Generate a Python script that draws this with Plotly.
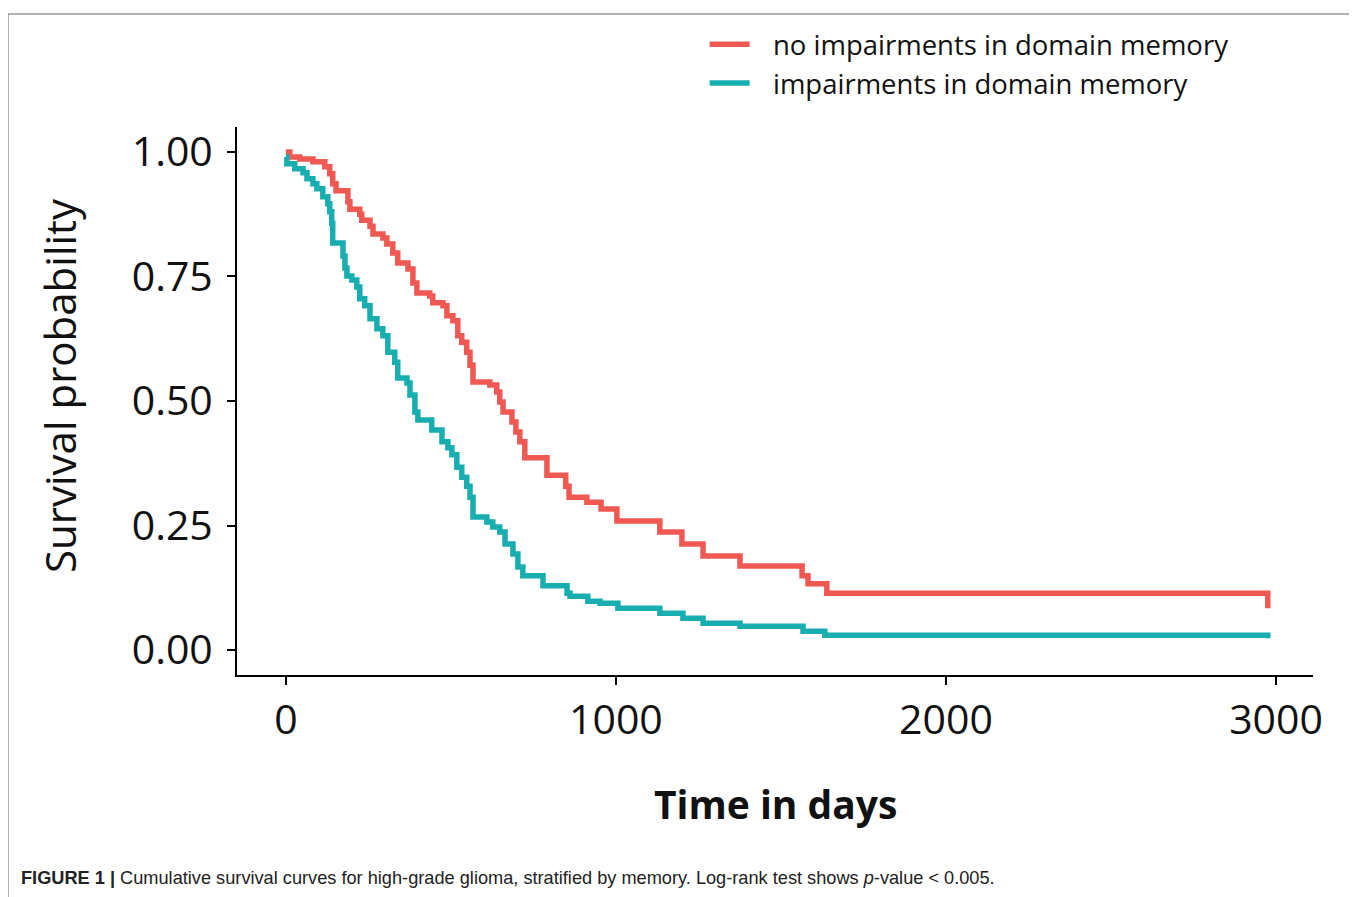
import plotly.graph_objects as go

# Kaplan-Meier step data (time in days, survival probability)
time_no_imp = [0, 12, 42, 82, 118, 133, 142, 152, 188, 194, 224, 230, 255, 264, 294, 306, 324, 339,
               370, 385, 397, 436, 445, 476, 488, 506, 521, 533, 548, 558, 567, 618, 639, 648, 658,
               685, 697, 709, 724, 791, 848, 858, 912, 955, 1003, 1133, 1200, 1264, 1376, 1564,
               1582, 1639, 2975]
surv_no_imp = [1.0, 0.990, 0.986, 0.980, 0.970, 0.956, 0.936, 0.922, 0.900, 0.885, 0.875, 0.863,
               0.851, 0.835, 0.827, 0.815, 0.797, 0.777, 0.765, 0.737, 0.717, 0.711, 0.697, 0.691,
               0.671, 0.661, 0.631, 0.618, 0.598, 0.572, 0.538, 0.532, 0.518, 0.498, 0.478, 0.458,
               0.438, 0.418, 0.386, 0.351, 0.329, 0.307, 0.297, 0.283, 0.259, 0.237, 0.213, 0.189,
               0.169, 0.149, 0.133, 0.114, 0.084]

time_imp = [0, 3, 27, 52, 64, 82, 94, 112, 127, 133, 139, 142, 173, 179, 185, 200, 215, 224, 239,
            255, 276, 294, 309, 330, 339, 367, 376, 391, 400, 442, 473, 491, 503, 518, 533, 548,
            558, 567, 609, 627, 648, 664, 688, 703, 718, 779, 852, 861, 915, 952, 1006, 1133, 1203,
            1264, 1376, 1567, 1633, 2975]
surv_imp = [0.990, 0.976, 0.966, 0.958, 0.946, 0.936, 0.926, 0.910, 0.896, 0.880, 0.857, 0.817,
            0.791, 0.767, 0.751, 0.743, 0.729, 0.705, 0.691, 0.665, 0.645, 0.631, 0.598, 0.578,
            0.546, 0.536, 0.512, 0.478, 0.462, 0.442, 0.418, 0.406, 0.392, 0.367, 0.347, 0.329,
            0.307, 0.267, 0.257, 0.247, 0.237, 0.213, 0.193, 0.167, 0.149, 0.129, 0.114, 0.108,
            0.098, 0.094, 0.084, 0.074, 0.064, 0.054, 0.048, 0.038, 0.030, 0.024]

series_names = ["no impairments in domain memory", "impairments in domain memory"]
series_colors = ["#EF5853", "#18AEB0"]

x_ticks = [0, 1000, 2000, 3000]
y_ticks = [0.0, 0.25, 0.5, 0.75, 1.0]
y_tick_labels = ["0.00", "0.25", "0.50", "0.75", "1.00"]

FONT = "Open Sans, Noto Sans, sans-serif"
GAP = "\u2002\u2009"  # visual gap between legend line and label

fig = go.Figure()
fig.add_trace(go.Scatter(x=time_no_imp, y=surv_no_imp, mode="lines", line_shape="hv",
                         name=GAP + series_names[0], line=dict(color=series_colors[0], width=5.5)))
fig.add_trace(go.Scatter(x=time_imp, y=surv_imp, mode="lines", line_shape="hv",
                         name=GAP + series_names[1], line=dict(color=series_colors[1], width=5.5)))

fig.update_layout(
    width=1349, height=889,
    margin=dict(l=229, r=44, t=114, b=222),
    paper_bgcolor="white", plot_bgcolor="white",
    font=dict(family=FONT, color="#111111"),
    showlegend=True,
    legend=dict(x=0.4346, y=1.1954, xanchor="left", yanchor="top",
                font=dict(family=FONT, size=27.5, color="#111111"),
                bgcolor="rgba(0,0,0,0)", tracegroupgap=0, itemwidth=40),
    xaxis=dict(range=[-148, 3112], tickvals=x_ticks, ticks="outside", ticklen=8, tickwidth=2,
               tickcolor="black", showline=True, linecolor="black", linewidth=2,
               showgrid=False, zeroline=False,
               tickfont=dict(family=FONT, size=41, color="#111111")),
    yaxis=dict(range=[-0.05, 1.05], tickvals=y_ticks, ticktext=y_tick_labels, ticks="outside",
               ticklen=8, tickwidth=2, tickcolor="black", showline=True, linecolor="black",
               linewidth=2, showgrid=False, zeroline=False, ticklabelstandoff=6,
               tickfont=dict(family=FONT, size=41, color="#111111")),
    shapes=[dict(type="rect", xref="paper", yref="paper", x0=-0.2128, x1=1.0344,
                 y0=-0.45, y1=1.2061, line=dict(color="#999999", width=1.5))],
    annotations=[
        dict(text="Survival probability", xref="paper", yref="paper", x=-0.1656, y=0.529,
             xanchor="center", yanchor="middle", textangle=-90, showarrow=False,
             font=dict(family=FONT, size=42, color="#111111", weight=500)),
        dict(text="<b>Time in days</b>", xref="paper", yref="paper", x=0.5, y=-0.235,
             xanchor="center", yanchor="middle", showarrow=False,
             font=dict(family=FONT, size=39, color="#111111")),
        dict(text="<b>FIGURE 1 |</b> Cumulative survival curves for high-grade glioma, stratified by memory. "
                  "Log-rank test shows <i>p</i>-value &lt; 0.005.",
             xref="paper", yref="paper", x=-0.2028, y=-0.3696, xanchor="left", yanchor="middle",
             showarrow=False,
             font=dict(family="Liberation Sans Narrow, Liberation Sans, Arial, sans-serif",
                       size=18.2, color="#222222")),
    ],
)

fig.write_html("out.html")
